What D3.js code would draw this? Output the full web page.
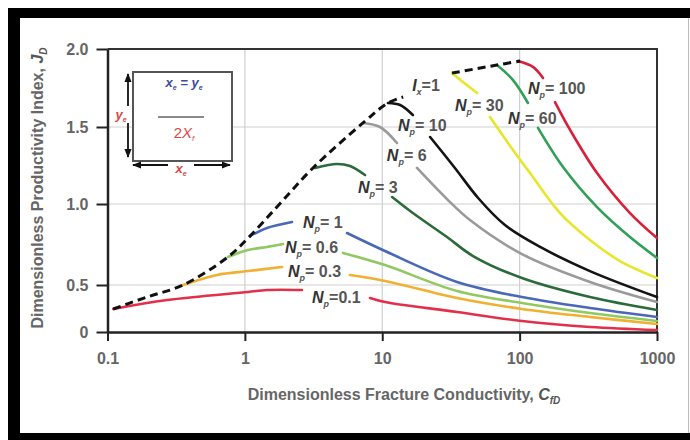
<!DOCTYPE html>
<html><head><meta charset="utf-8">
<script src="https://cdn.jsdelivr.net/npm/d3@7"></script>
<style>
html,body{margin:0;padding:0;background:#fff;}
svg{display:block;font-family:"Liberation Sans",Arial,Helvetica,sans-serif;}
</style></head>
<body>
<svg id="chart" width="690" height="440"></svg>
<script>
// ---------- data (C_fD, J_D); null = break in the drawn curve ----------
const xTicks = [0.1, 1, 10, 100, 1000];
const xTickLabels = ["0.1", "1", "10", "100", "1000"];
const yTicks = [0, 0.5, 1, 1.5, 2];
const yTickLabels = ["0", "0.5", "1.0", "1.5", "2.0"];
const xGrid = [1, 10, 100];
const yGrid = [0.5, 1, 1.5];

const envelope = [[0.11,0.245],[0.194,0.372],[0.355,0.50],[0.753,0.673],[1.09,0.802],[1.79,1.0],[3.13,1.234],[7.24,1.526],[11.0,1.654],[14.2,1.692],null,[32.2,1.846],[68.4,1.897],[101,1.923]];
const np01 = [[0.11,0.245],[0.271,0.340],[1.054,0.426],[1.449,0.447],[2.605,0.447],null,[8.15,0.362],[10.47,0.319],[35.0,0.213],[104,0.117],[325,0.053],[1000,0.021]];
const np03 = [[0.355,0.50],[0.627,0.562],[1.054,0.586],[1.863,0.611],null,[5.82,0.562],[10.47,0.525],[35.0,0.362],[104,0.245],[325,0.160],[1000,0.085]];
const np06 = [[0.753,0.673],[1.054,0.716],[1.449,0.735],[1.895,0.753],null,[5.18,0.698],[10.47,0.623],[35.0,0.436],[104,0.309],[325,0.202],[1000,0.117]];
const np1 = [[1.089,0.802],[1.449,0.852],[2.203,0.889],null,[5.54,0.821],[10.47,0.710],[35.0,0.519],[104,0.372],[325,0.255],[1000,0.160]];
const np3 = [[3.24,1.234],[4.69,1.260],[5.82,1.247],[7.49,1.188],null,[11.8,1.045],[16.7,0.944],[29.6,0.796],[45.8,0.679],[104,0.543],[325,0.372],[1000,0.234]];
const np6 = [[7.24,1.526],[9.63,1.50],[12.8,1.396],null,[17.9,1.234],[29.6,1.032],[43.5,0.901],[104,0.691],[325,0.519],[1000,0.319]];
const np10 = [[11.0,1.654],[13.5,1.641],[16.7,1.577],null,[22.3,1.435],[33.8,1.234],[49.9,1.039],[78.2,0.870],[141,0.735],[325,0.586],[1000,0.372]];
const np30 = [[32.2,1.846],[38.7,1.788],[49.0,1.718],null,[60.8,1.564],[89.5,1.351],[119,1.201],[197,0.944],[325,0.778],[538,0.648],[1000,0.543]];
const np60 = [[68.4,1.897],[89.5,1.801],[115,1.654],null,[136,1.494],[207,1.240],[366,0.981],[636,0.796],[1000,0.667]];
const np100 = [[97.3,1.923],[125,1.885],[148,1.814],null,[181,1.660],[233,1.481],[366,1.201],[636,0.944],[1000,0.790]];

const seriesNames = ["0.1","0.3","0.6","1","3","6","10","30","60","100"];
const seriesData = [np01, np03, np06, np1, np3, np6, np10, np30, np60, np100];
const labelTexts = ["=0.1","= 0.3","= 0.6","= 1","= 3","= 6","= 10","= 30","= 60","= 100"];

// ---------- styling / layout ----------
const colors = ["#e2304a","#f0b032","#92c862","#4a68b8","#2b6b3b","#9a9a9a","#141414","#e6e62a","#2fa056","#d8203a"];
// label anchors (data coords of the left end / vertical middle)
const labelAt = [[3.08,0.372],[2.06,0.586],[1.96,0.735],[2.65,0.889],[6.66,1.110],[10.8,1.318],[13.0,1.513],[33.8,1.641],[82.3,1.558],[115,1.75]];

const svg = d3.select("#chart");
const W = 690, H = 440;
svg.append("rect").attr("width", W).attr("height", H).attr("fill", "#fff");

// outer black frame (cropped photo look)
svg.append("rect").attr("x", 8).attr("y", 8).attr("width", 12).attr("height", H).attr("fill", "#000");
svg.append("rect").attr("x", 8).attr("y", 8).attr("width", W).attr("height", 10).attr("fill", "#000");
svg.append("rect").attr("x", 8).attr("y", 433).attr("width", W).attr("height", 10).attr("fill", "#000");
svg.append("line").attr("x1", 688.5).attr("x2", 688.5).attr("y1", 18).attr("y2", 433).attr("stroke", "#bbb").attr("stroke-width", 1);

const x = d3.scaleLog().domain([0.1, 1000]).range([107.5, 657]);
const y = d3.scaleLinear().domain(yTicks).range([332, 285, 204, 127, 49]);

// grid
svg.append("g").selectAll("line").data(xGrid).join("line")
  .attr("x1", d => x(d)).attr("x2", d => x(d)).attr("y1", y(2)).attr("y2", y(0))
  .attr("stroke", "#cfcfcf").attr("stroke-width", 1.2);
svg.append("g").selectAll("line").data(yGrid).join("line")
  .attr("x1", x(0.1)).attr("x2", x(1000)).attr("y1", d => y(d)).attr("y2", d => y(d))
  .attr("stroke", "#cfcfcf").attr("stroke-width", 1.2);

// top / right frame
svg.append("path")
  .attr("d", `M${x(0.1)},${y(2)}H${x(1000)}V${y(0)}`)
  .attr("fill", "none").attr("stroke", "#333").attr("stroke-width", 2);

// axes
const tickFont = g => g.selectAll("text").attr("font-size", 16).attr("font-weight", "bold").attr("fill", "#666").attr("font-family", '"Liberation Sans",Arial,sans-serif');
const yAxis = svg.append("g").attr("transform", `translate(${x(0.1)},0)`)
  .call(d3.axisLeft(y).tickValues(yTicks).tickFormat((d, i) => yTickLabels[i]).tickSize(11).tickSizeOuter(0).tickPadding(8));
yAxis.call(tickFont);
yAxis.selectAll("line").attr("stroke", "#222").attr("stroke-width", 2);
yAxis.select(".domain").attr("stroke", "#222").attr("stroke-width", 2.5);

const xAxis = svg.append("g").attr("transform", `translate(0,${y(0)})`)
  .call(d3.axisBottom(x).tickValues(xTicks).tickFormat((d, i) => xTickLabels[i]).tickSize(9).tickSizeOuter(0).tickPadding(12));
xAxis.call(tickFont);
xAxis.selectAll("line").attr("stroke", "#222").attr("stroke-width", 2);
xAxis.select(".domain").attr("stroke", "#222").attr("stroke-width", 2.5);

// curves
const line = d3.line().defined(d => d !== null).x(d => x(d[0])).y(d => y(d[1])).curve(d3.curveCatmullRom.alpha(0.5));
const curves = svg.append("g").attr("fill", "none").attr("stroke-linecap", "round");
seriesData.forEach((s, i) => {
  curves.append("path").attr("d", line(s)).attr("stroke", colors[i]).attr("stroke-width", 2.6);
});
svg.append("path").attr("d", line(envelope)).attr("fill", "none")
  .attr("stroke", "#111").attr("stroke-width", 3).attr("stroke-dasharray", "8,5");

// curve labels
const labG = svg.append("g").attr("fill", "#555").attr("font-weight", "bold");
seriesNames.forEach((n, i) => {
  const t = labG.append("text").attr("x", x(labelAt[i][0])).attr("y", y(labelAt[i][1])).attr("dy", "0.36em").attr("font-size", 16);
  t.append("tspan").attr("font-style", "italic").attr("fill", "#333").text("N");
  t.append("tspan").attr("font-style", "italic").attr("font-size", 9).attr("dy", 4).text("p");
  t.append("tspan").attr("dy", -4).text(labelTexts[i]);
});
const ix = labG.append("text").attr("x", x(16.5)).attr("y", y(1.769)).attr("dy", "0.36em").attr("font-size", 16);
ix.append("tspan").attr("font-style", "italic").attr("fill", "#333").text("I");
ix.append("tspan").attr("font-style", "italic").attr("font-size", 9).attr("dy", 4).text("x");
ix.append("tspan").attr("dy", -4).text("=1");

// axis titles
const xt = svg.append("text").attr("x", 404).attr("y", 400).attr("text-anchor", "middle")
  .attr("font-size", 16).attr("font-weight", "bold").attr("fill", "#666");
xt.append("tspan").text("Dimensionless Fracture Conductivity, ");
xt.append("tspan").attr("font-style", "italic").attr("fill", "#555").text("C");
xt.append("tspan").attr("font-style", "italic").attr("font-size", 10).attr("dy", 4).attr("fill", "#555").text("fD");

const yt = svg.append("text").attr("transform", "translate(43,188) rotate(-90)").attr("text-anchor", "middle")
  .attr("font-size", 16).attr("font-weight", "bold").attr("fill", "#666");
yt.append("tspan").text("Dimensionless Productivity Index, ");
yt.append("tspan").attr("font-style", "italic").attr("fill", "#555").text("J");
yt.append("tspan").attr("font-style", "italic").attr("font-size", 10).attr("dy", 4).attr("fill", "#555").text("D");

// inset sketch
const defs = svg.append("defs");
defs.append("marker").attr("id", "ah").attr("viewBox", "0 0 10 10").attr("refX", 9).attr("refY", 5)
  .attr("markerWidth", 5).attr("markerHeight", 5).attr("orient", "auto-start-reverse")
  .append("path").attr("d", "M0,1L10,5L0,9Z").attr("fill", "#111");
const ins = svg.append("g");
ins.append("rect").attr("x", 133).attr("y", 72).attr("width", 99).attr("height", 89)
  .attr("fill", "#fff").attr("stroke", "#555").attr("stroke-width", 2);
ins.append("line").attr("x1", 158).attr("x2", 204).attr("y1", 117).attr("y2", 117).attr("stroke", "#8a8a8a").attr("stroke-width", 2);
const xe = ins.append("text").attr("x", 184).attr("y", 87).attr("text-anchor", "middle")
  .attr("font-size", 13).attr("font-weight", "bold").attr("font-style", "italic").attr("fill", "#3c4c9c");
xe.append("tspan").text("x");
xe.append("tspan").attr("font-size", 7).attr("dy", 3).text("e");
xe.append("tspan").attr("dy", -3).text(" = y");
xe.append("tspan").attr("font-size", 7).attr("dy", 3).text("e");
const xf = ins.append("text").attr("x", 184).attr("y", 138).attr("text-anchor", "middle")
  .attr("font-size", 15).attr("fill", "#d84848");
xf.append("tspan").text("2");
xf.append("tspan").attr("font-style", "italic").text("X");
xf.append("tspan").attr("font-size", 8).attr("dy", 3).attr("font-style", "italic").text("f");
// vertical arrow (y_e)
ins.append("line").attr("x1", 128).attr("x2", 128).attr("y1", 106).attr("y2", 74)
  .attr("stroke", "#111").attr("stroke-width", 1.8).attr("marker-end", "url(#ah)");
ins.append("line").attr("x1", 128).attr("x2", 128).attr("y1", 123).attr("y2", 157)
  .attr("stroke", "#111").attr("stroke-width", 1.8).attr("marker-end", "url(#ah)");
const ye = ins.append("text").attr("x", 121).attr("y", 119).attr("text-anchor", "middle")
  .attr("font-size", 13).attr("font-weight", "bold").attr("font-style", "italic").attr("fill", "#d84848");
ye.append("tspan").text("y");
ye.append("tspan").attr("font-size", 7).attr("dy", 3).text("e");
// horizontal arrow (x_e)
ins.append("line").attr("x1", 168).attr("x2", 133).attr("y1", 165).attr("y2", 165)
  .attr("stroke", "#111").attr("stroke-width", 1.8).attr("marker-end", "url(#ah)");
ins.append("line").attr("x1", 194).attr("x2", 230).attr("y1", 165).attr("y2", 165)
  .attr("stroke", "#111").attr("stroke-width", 1.8).attr("marker-end", "url(#ah)");
const xe2 = ins.append("text").attr("x", 181).attr("y", 173).attr("text-anchor", "middle")
  .attr("font-size", 13).attr("font-weight", "bold").attr("font-style", "italic").attr("fill", "#d84848");
xe2.append("tspan").text("x");
xe2.append("tspan").attr("font-size", 7).attr("dy", 3).text("e");
</script>
</body></html>
